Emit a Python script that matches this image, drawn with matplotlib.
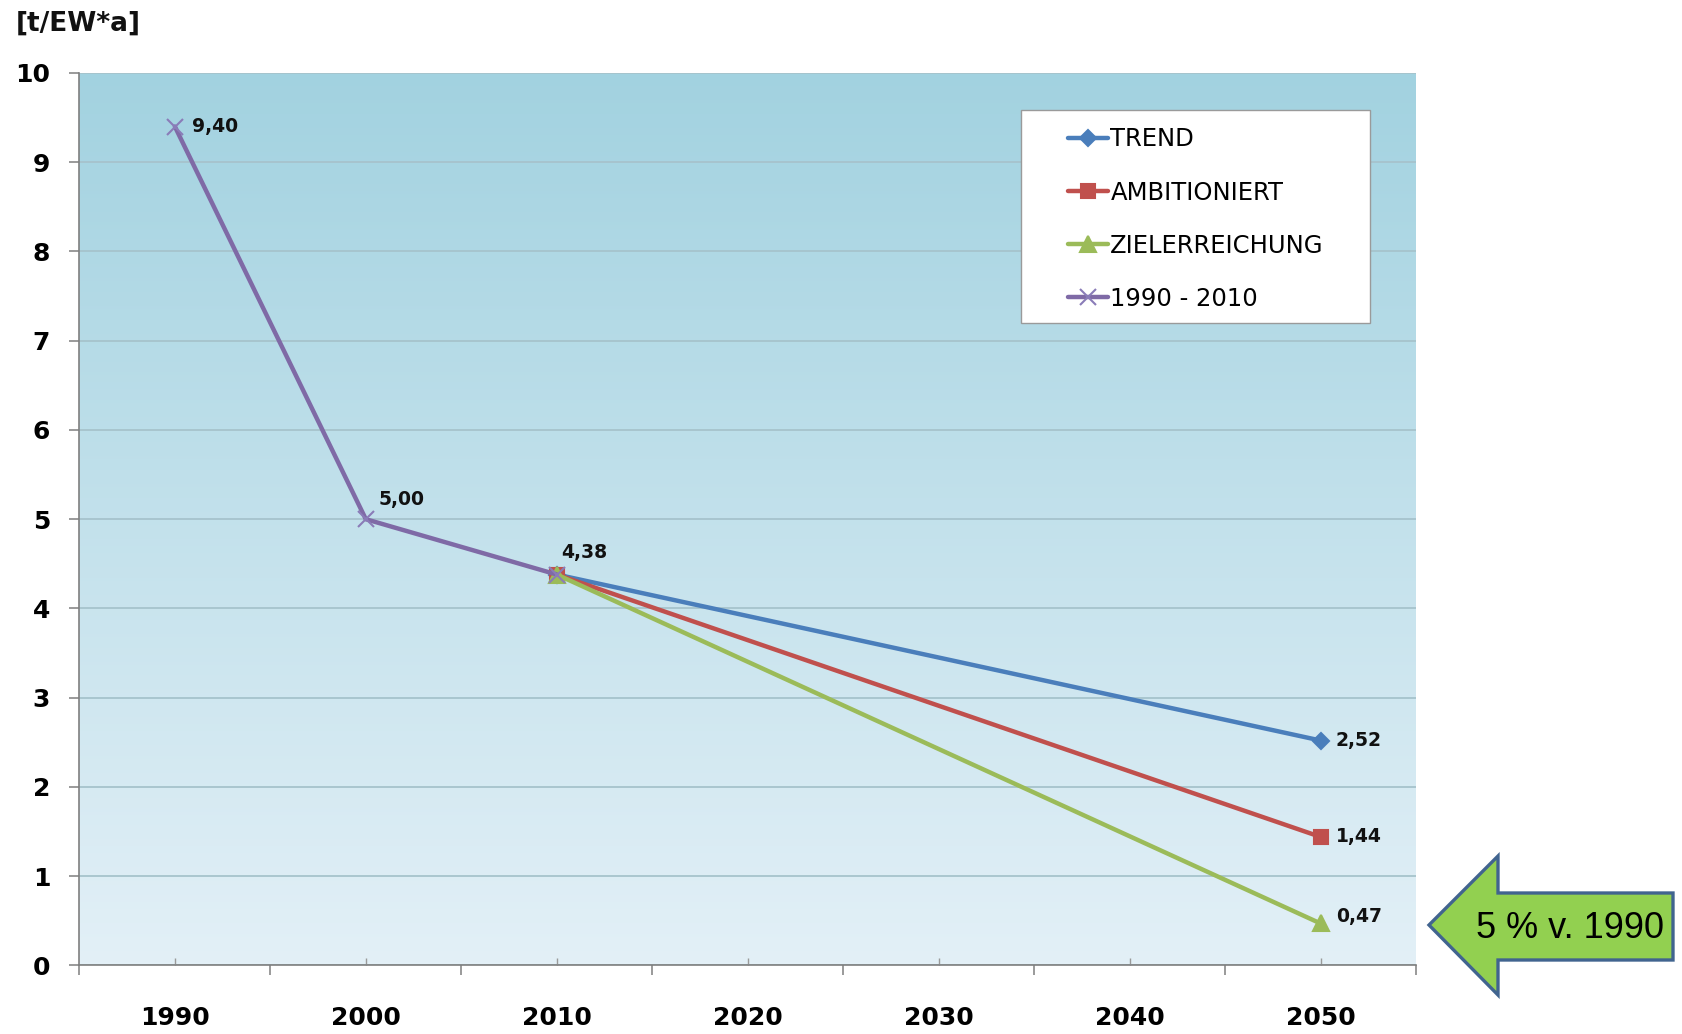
import numpy as np
import matplotlib
matplotlib.use('Agg')
from matplotlib import pyplot as plt
from matplotlib.patches import Polygon, Rectangle
from matplotlib.colors import LinearSegmentedColormap

# Daten
jahre = ['1990', '2000', '2010', '2020', '2030', '2040', '2050']
trend = [None, None, 4.38, None, None, None, 2.52]
ambitioniert = [None, None, 4.38, None, None, None, 1.44]
zielerreichung = [None, None, 4.38, None, None, None, 0.47]
verlauf = [9.40, 5.00, 4.38, None, None, None, None]


def punkte(werte):
    x = [i for i, v in enumerate(werte) if v is not None]
    y = [v for v in werte if v is not None]
    return x, y


def fmt(v):
    return ('%.2f' % v).replace('.', ',')


W, H = 1682, 1034
fig = plt.figure(figsize=(W / 100, H / 100), dpi=100)
ax = fig.add_axes([79.4 / W, 1 - 965.4 / H, 1336.6 / W, 892.4 / H])

# Hintergrund-Verlauf
cmap = LinearSegmentedColormap.from_list('bg', ['#e3f0f7', '#a2d2e0'])
grad = np.linspace(0, 1, 256).reshape(-1, 1)
ax.imshow(grad, aspect='auto', cmap=cmap, origin='lower',
          extent=[0, 1, 0, 1], transform=ax.transAxes, zorder=0)

ax.set_xlim(-0.5, 6.5)
ax.set_ylim(0, 10)
ax.set_yticks(range(0, 11))
ax.yaxis.grid(True, color='#a6c3cc', lw=1.3, zorder=1)
ax.set_axisbelow(True)

for s in ['top', 'right']:
    ax.spines[s].set_visible(False)
for s in ['left', 'bottom']:
    ax.spines[s].set_color('#7f7f7f')
    ax.spines[s].set_linewidth(1.2)

# x-Achse als Kategorieachse
ax.set_xticks(np.arange(-0.5, 7, 1))
ax.set_xticklabels([])
ax.set_xticks(range(len(jahre)), minor=True)
ax.set_xticklabels(jahre, minor=True)
ax.tick_params(axis='x', which='major', direction='out', length=7, width=1.1, color='#7f7f7f')
ax.tick_params(axis='x', which='minor', direction='in', length=5, width=1.0, color='#9a9a9a', pad=29)
ax.tick_params(axis='y', direction='out', length=7, width=1.1, color='#7f7f7f', pad=14)

fnt = 'DejaVu Sans'
for lab in ax.get_xticklabels(minor=True) + ax.get_yticklabels():
    lab.set_fontfamily(fnt)
    lab.set_fontweight('bold')
    lab.set_fontsize(18)

serien = [
    ('TREND', trend, '#4a7ebb', 'D', 8, '#4a7ebb'),
    ('AMBITIONIERT', ambitioniert, '#c0504d', 's', 10, '#c0504d'),
    ('ZIELERREICHUNG', zielerreichung, '#9bbb59', '^', 11, '#9bbb59'),
    ('1990 - 2010', verlauf, '#7f6aa6', 'x', 11, '#8a7cb8'),
]
handles = []
for name, werte, farbe, mk, ms, mfarbe in serien:
    x, y = punkte(werte)
    ln, = ax.plot(x, y, color=farbe, lw=3.2, marker=mk, ms=ms,
                  markerfacecolor=mfarbe, markeredgecolor=mfarbe,
                  mew=1.5, label=name, zorder=3, solid_capstyle='round')
    handles.append(ln)

# Datenbeschriftungen
lbl = dict(fontsize=13.5, fontweight='bold', family=fnt, color='#111111', zorder=5)
x, y = punkte(verlauf)
ax.annotate(fmt(y[0]), (x[0], y[0]), xytext=(12, 0), textcoords='offset points', va='center', **lbl)
ax.annotate(fmt(y[1]), (x[1], y[1]), xytext=(9, 14), textcoords='offset points', va='center', **lbl)
ax.annotate(fmt(y[2]), (x[2], y[2]), xytext=(3, 16), textcoords='offset points', va='center', **lbl)
for werte, dy in [(trend, 0), (ambitioniert, 0), (zielerreichung, 5)]:
    x, y = punkte(werte)
    ax.annotate(fmt(y[-1]), (x[-1], y[-1]), xytext=(11, dy), textcoords='offset points',
                va='center', **lbl)

# Legende
ax.add_patch(Rectangle((0.7045, 0.72), 0.261, 0.2385, transform=ax.transAxes,
                       facecolor='white', edgecolor='#9a9a9a', lw=1.0, zorder=6))
leg = ax.legend(handles=handles, loc='upper left', bbox_to_anchor=(0.7395, 0.939),
                frameon=False, borderpad=0, borderaxespad=0, handlelength=1.65,
                handletextpad=0.1, labelspacing=1.2, prop={'family': fnt, 'size': 17.5})
leg.set_zorder(7)

# Einheit
fig.text(16 / W, 1 - 23.5 / H, '[t/EW*a]', fontsize=19, fontweight='bold',
         family=fnt, va='center', ha='left', color='#111111')

# Pfeil
pfeil = np.array([(1429, 925), (1498, 856), (1498, 893), (1673, 893),
                  (1673, 960), (1498, 960), (1498, 995)], dtype=float)
pfeil[:, 0] /= W
pfeil[:, 1] = 1 - pfeil[:, 1] / H
fig.patches.append(Polygon(pfeil, closed=True, transform=fig.transFigure,
                           facecolor='#92d050', edgecolor='#41648f', lw=2.4))
fig.text(1570 / W, 1 - 928 / H, '5 % v. 1990', fontsize=26, family='Liberation Sans',
         ha='center', va='center', color='black')

fig.savefig('out.png', dpi=100)
